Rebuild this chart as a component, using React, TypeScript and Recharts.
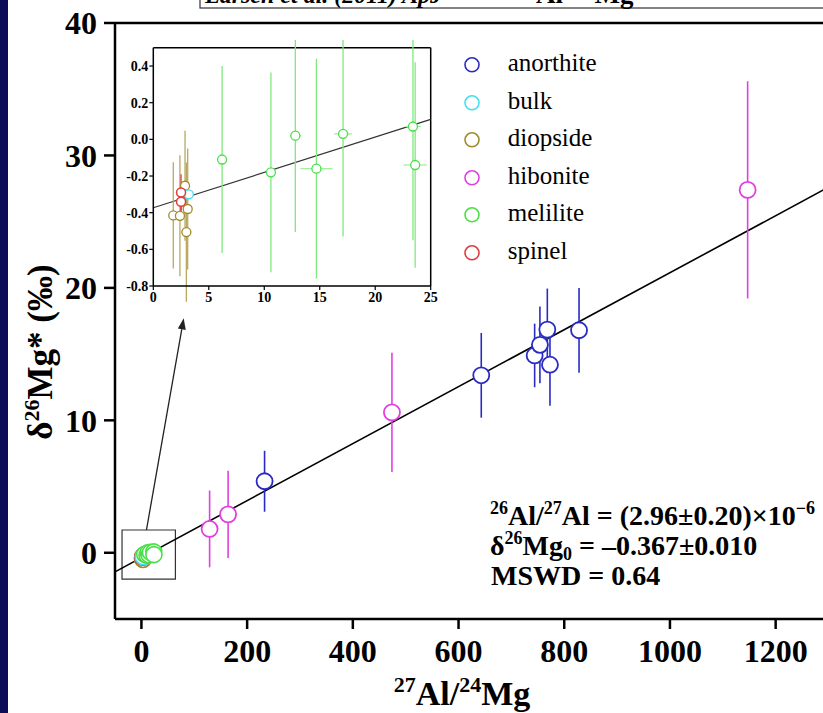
import React from 'react';
import {
  ScatterChart,
  Scatter,
  XAxis,
  YAxis,
  ErrorBar,
  ReferenceLine,
  ReferenceArea,
} from 'recharts';

// main plot
const anorthiteX = [233, 643, 744, 754, 768, 773, 828];
const anorthiteY = [5.4, 13.4, 14.9, 15.7, 16.85, 14.2, 16.8];
const anorthiteErr = [2.3, 3.2, 2.4, 2.9, 3.1, 3.1, 3.2];

const hiboniteX = [129, 164, 474, 1147];
const hiboniteY = [1.8, 2.9, 10.6, 27.4];
const hiboniteErr = [2.9, 3.3, 4.5, 8.2];

// low Al/Mg phases (shown in the inset)
const meliliteX = [6.2, 10.6, 12.8, 14.7, 17.1, 23.4, 23.6];
const meliliteY = [-0.11, -0.18, 0.02, -0.16, 0.03, 0.07, -0.14];
const meliliteErr = [0.51, 0.545, 0.525, 0.6, 0.56, 0.62, 0.56];
const meliliteXErr = [0.1, 0.1, 0.5, 1.45, 0.8, 0.7, 1.05];

const diopsideX = [1.8, 2.4, 2.86, 3.1, 2.98];
const diopsideY = [-0.415, -0.417, -0.253, -0.38, -0.506];
const diopsideErr = [0.29, 0.33, 0.3, 0.33, 0.38];

const spinelX = [2.5, 2.5];
const spinelY = [-0.29, -0.34];
const spinelErr = [0.1, 0.08];

const bulkX = [3.2];
const bulkY = [-0.3];
const bulkErr = [0.02];

// isochron end points
const mainFitX = [-50, 1300];
const mainFitY = [-1.44, 27.6];
const insetFitX = [0, 25];
const insetFitY = [-0.373, 0.109];

const mainXTicks = [0, 200, 400, 600, 800, 1000, 1200];
const mainYTicks = [0, 10, 20, 30, 40];
const insetXTicks = [0, 5, 10, 15, 20, 25];
const insetYTicks = [-0.8, -0.6, -0.4, -0.2, 0, 0.2, 0.4];

const colors = {
  anorthite: '#2b2bc4',
  bulk: '#40e0f0',
  diopside: '#9c8c2c',
  hibonite: '#e040e0',
  melilite: '#48e048',
  spinel: '#e03c3c',
};
const legendNames = ['anorthite', 'bulk', 'diopside', 'hibonite', 'melilite', 'spinel'];

const build = (xs: number[], ys: number[], es: number[], exs?: number[]) =>
  xs.map((x, i) => ({ x, y: ys[i], ey: es[i], ex: exs ? exs[i] : 0 }));

const anorthite = build(anorthiteX, anorthiteY, anorthiteErr);
const hibonite = build(hiboniteX, hiboniteY, hiboniteErr);
const melilite = build(meliliteX, meliliteY, meliliteErr, meliliteXErr);
const diopside = build(diopsideX, diopsideY, diopsideErr);
const spinel = build(spinelX, spinelY, spinelErr);
const bulk = build(bulkX, bulkY, bulkErr);

const serif = '"Liberation Serif", "Times New Roman", serif';

const ring = (r: number, color: string, sw: number) => (p: any) =>
  <circle cx={p.cx} cy={p.cy} r={r} fill="#fff" stroke={color} strokeWidth={sw} />;

const arrowShape = (p: any) => {
  const { x1, y1, x2, y2 } = p;
  const a = Math.atan2(y2 - y1, x2 - x1);
  const L = 11, W = 4;
  const bx = x2 - L * Math.cos(a), by = y2 - L * Math.sin(a);
  const pts = `${x2},${y2} ${bx - W * Math.sin(a)},${by + W * Math.cos(a)} ${bx + W * Math.sin(a)},${by - W * Math.cos(a)}`;
  return (
    <g>
      <line x1={x1} y1={y1} x2={bx} y2={by} stroke="#222" strokeWidth={1.3} />
      <polygon points={pts} fill="#222" />
    </g>
  );
};

const mainTick = { fill: '#000', fontSize: 32, fontWeight: 'bold', fontFamily: serif };
const insetTick = { fill: '#000', fontSize: 14, fontWeight: 'bold', fontFamily: serif };

const MainChart = () => (
  <ScatterChart width={840} height={713} margin={{ top: 23, right: 11.5, bottom: 0, left: 0 }}>
    <XAxis
      type="number"
      dataKey="x"
      domain={[-50, 1300]}
      ticks={mainXTicks}
      allowDataOverflow
      height={94}
      tickSize={10}
      tickMargin={10}
      tick={mainTick}
      axisLine={{ stroke: '#000', strokeWidth: 2.5 }}
      tickLine={{ stroke: '#000', strokeWidth: 2.5 }}
    />
    <YAxis
      type="number"
      dataKey="y"
      domain={[-5, 40]}
      ticks={mainYTicks}
      allowDataOverflow
      width={115}
      tickSize={11}
      tickMargin={7}
      tick={mainTick}
      axisLine={{ stroke: '#000', strokeWidth: 2.5 }}
      tickLine={{ stroke: '#000', strokeWidth: 2.5 }}
    />
    <ReferenceLine y={40} stroke="#000" strokeWidth={2.5} />
    <ReferenceLine
      segment={[{ x: mainFitX[0], y: mainFitY[0] }, { x: mainFitX[1], y: mainFitY[1] }]}
      stroke="#000"
      strokeWidth={1.6}
    />
    <ReferenceArea x1={-36.7} x2={64.3} y1={-1.99} y2={1.72} fill="none" stroke="#333" strokeWidth={1.2} />
    <ReferenceLine segment={[{ x: 9.5, y: 1.72 }, { x: 80, y: 17.7 }]} shape={arrowShape} />

    <Scatter data={diopside} isAnimationActive={false} shape={ring(8, colors.diopside, 1.6)}>
      <ErrorBar dataKey="ey" direction="y" width={0} stroke={colors.diopside} strokeWidth={1.4} />
    </Scatter>
    <Scatter data={spinel} isAnimationActive={false} shape={ring(8, colors.spinel, 1.6)} />
    <Scatter data={bulk} isAnimationActive={false} shape={ring(8, colors.bulk, 1.6)} />
    <Scatter data={melilite} isAnimationActive={false} shape={ring(8, colors.melilite, 1.6)}>
      <ErrorBar dataKey="ey" direction="y" width={0} stroke={colors.melilite} strokeWidth={1.4} />
    </Scatter>
    <Scatter data={anorthite} isAnimationActive={false} shape={ring(8, colors.anorthite, 1.8)}>
      <ErrorBar dataKey="ey" direction="y" width={0} stroke={colors.anorthite} strokeWidth={1.6} />
    </Scatter>
    <Scatter data={hibonite} isAnimationActive={false} shape={ring(8, colors.hibonite, 1.8)}>
      <ErrorBar dataKey="ey" direction="y" width={0} stroke={colors.hibonite} strokeWidth={1.6} />
    </Scatter>
  </ScatterChart>
);

const InsetChart = () => (
  <ScatterChart width={330} height={275} margin={{ top: 7.7, right: 9.3, bottom: 4, left: 0 }}>
    <XAxis
      type="number"
      dataKey="x"
      domain={[0, 25]}
      ticks={insetXTicks}
      allowDataOverflow
      height={25}
      tickSize={4}
      tickMargin={2}
      tick={insetTick}
      axisLine={{ stroke: '#000', strokeWidth: 1.5 }}
      tickLine={{ stroke: '#000', strokeWidth: 1.2 }}
    />
    <YAxis
      type="number"
      dataKey="y"
      domain={[-0.8, 0.5]}
      ticks={insetYTicks}
      allowDataOverflow
      width={43.3}
      tickSize={4}
      tickMargin={1}
      tick={insetTick}
      tickFormatter={(v: number) => v.toFixed(1)}
      axisLine={{ stroke: '#000', strokeWidth: 1.5 }}
      tickLine={{ stroke: '#000', strokeWidth: 1.2 }}
    />
    <ReferenceLine y={0.5} stroke="#000" strokeWidth={1.5} />
    <ReferenceLine x={25} stroke="#000" strokeWidth={1.5} />
    <ReferenceLine
      segment={[{ x: insetFitX[0], y: insetFitY[0] }, { x: insetFitX[1], y: insetFitY[1] }]}
      stroke="#333"
      strokeWidth={1.2}
    />
    <Scatter data={melilite} isAnimationActive={false} shape={ring(4.5, colors.melilite, 1.3)}>
      <ErrorBar dataKey="ey" direction="y" width={0} stroke="#80e880" strokeWidth={1.3} />
      <ErrorBar dataKey="ex" direction="x" width={0} stroke="#a0f0a0" strokeWidth={1.3} />
    </Scatter>
    <Scatter data={diopside} isAnimationActive={false} shape={ring(4.5, colors.diopside, 1.3)}>
      <ErrorBar dataKey="ey" direction="y" width={0} stroke="#b8a860" strokeWidth={1.3} />
    </Scatter>
    <Scatter data={bulk} isAnimationActive={false} shape={ring(4.5, colors.bulk, 1.3)} />
    <Scatter data={spinel} isAnimationActive={false} shape={ring(4.5, colors.spinel, 1.5)}>
      <ErrorBar dataKey="ey" direction="y" width={0} stroke={colors.spinel} strokeWidth={1.3} />
    </Scatter>
  </ScatterChart>
);

const Legend = () => (
  <div style={{ position: 'absolute', left: 464.3, top: 44, fontFamily: serif, fontSize: 25 }}>
    {legendNames.map((n) => (
      <div key={n} style={{ height: 37.6, display: 'flex', alignItems: 'center' }}>
        <svg width={43.4} height={37.6}>
          <circle cx={8} cy={20.8} r={7} fill="none" stroke={(colors as any)[n]} strokeWidth={1.6} />
        </svg>
        <span style={{ lineHeight: '37.6px' }}>{n}</span>
      </div>
    ))}
  </div>
);

const Overlay = () => (
  <svg width={823} height={713} style={{ position: 'absolute', left: 0, top: 0, pointerEvents: 'none' }}>
    <g fontFamily={serif} fontWeight="bold" fill="#000">
      {/* title box, cut at the top edge */}
      <rect x={200} y={-20} width={640} height={28} fill="#fff" stroke="#333" strokeWidth={1.2} />
      <text x={205} y={3} fontSize={24} fontStyle="italic">Larsen et al. (2011) ApJ</text>
      <text x={518} y={3} fontSize={27}>
        <tspan fontSize={18} dy={-10}>26</tspan>
        <tspan dy={10}>Al–</tspan>
        <tspan fontSize={18} dy={-10}>26</tspan>
        <tspan dy={10}>Mg</tspan>
      </text>

      {/* isochron result */}
      <text x={490} y={525} fontSize={28}>
        <tspan fontSize={18} dy={-11}>26</tspan>
        <tspan dy={11}>Al/</tspan>
        <tspan fontSize={18} dy={-11}>27</tspan>
        <tspan dy={11}>Al = (2.96±0.20)×10</tspan>
        <tspan fontSize={18} dy={-11}>−6</tspan>
      </text>
      <text x={490} y={555} fontSize={28}>
        <tspan>δ</tspan>
        <tspan fontSize={18} dy={-11}>26</tspan>
        <tspan dy={11}>Mg</tspan>
        <tspan fontSize={18} dy={5}>0</tspan>
        <tspan dy={-5}> = –0.367±0.010</tspan>
      </text>
      <text x={491} y={585} fontSize={28}>MSWD = 0.64</text>

      {/* axis titles */}
      <text x={462} y={705} fontSize={34} textAnchor="middle">
        <tspan fontSize={22} dy={-13}>27</tspan>
        <tspan dy={13}>Al/</tspan>
        <tspan fontSize={22} dy={-13}>24</tspan>
        <tspan dy={13}>Mg</tspan>
      </text>
      <text x={38} y={366} fontSize={35} textAnchor="middle" transform="rotate(-90, 38, 352)">
        <tspan>δ</tspan>
        <tspan fontSize={22} dy={-13}>26</tspan>
        <tspan dy={13}>Mg* (‰)</tspan>
      </text>
    </g>
  </svg>
);

export default function App() {
  return (
    <div
      style={{
        position: 'absolute',
        left: 0,
        top: 0,
        width: 823,
        height: 713,
        overflow: 'hidden',
        background: '#fff',
      }}
    >
      <div style={{ position: 'absolute', left: 0, top: 0 }}>
        <MainChart />
      </div>
      <div style={{ position: 'absolute', left: 110, top: 40 }}>
        <InsetChart />
      </div>
      <Legend />
      <Overlay />
      <div style={{ position: 'absolute', left: 0, top: 0, width: 8, height: 713, background: '#0d0d55' }} />
    </div>
  );
}
